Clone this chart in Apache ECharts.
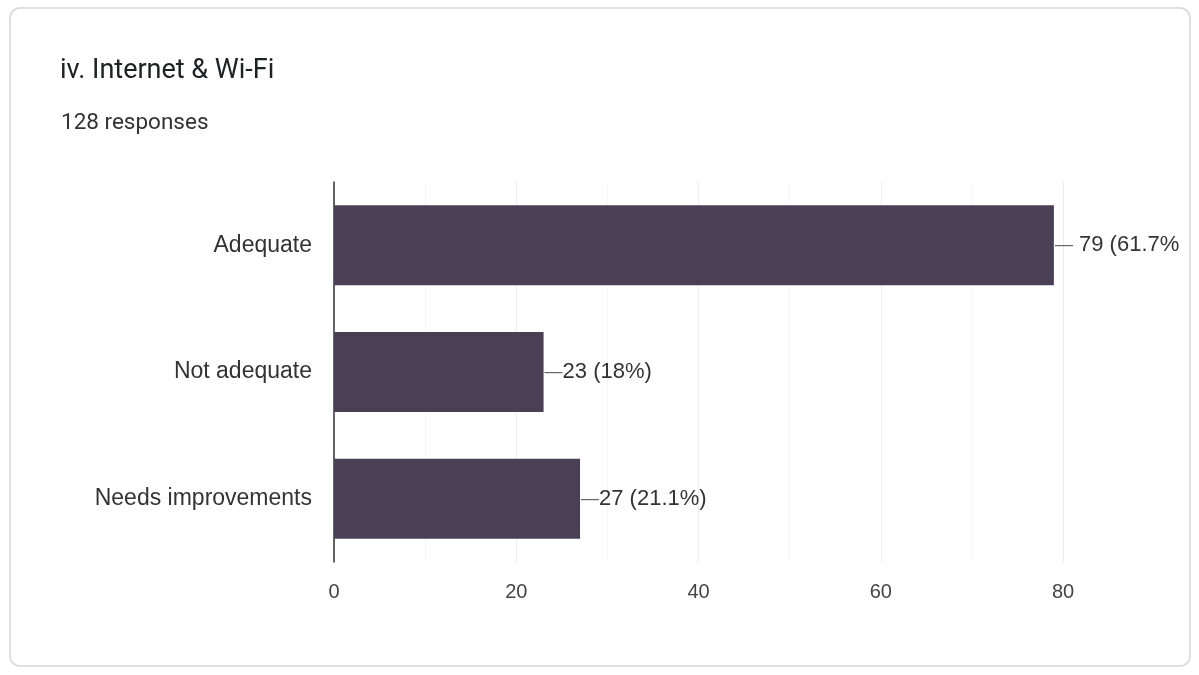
<!DOCTYPE html>
<html>
<head>
<meta charset="utf-8">
<script src="https://cdn.jsdelivr.net/npm/echarts@6/dist/echarts.min.js"></script>
<style>
html,body{margin:0;padding:0;background:#fff;}
#chart{width:1199px;height:675px;}
</style>
</head>
<body>
<div id="chart"></div>
<script>
var titleText = 'iv. Internet & Wi-Fi';
var subtitleText = '128 responses';
var categories = ['Adequate', 'Not adequate', 'Needs improvements'];
var counts = [79, 23, 27];
var labels = ['79 (61.7%', '23 (18%)', '27 (21.1%)'];
var xTicks = [0, 20, 40, 60, 80];

var chart = echarts.init(document.getElementById('chart'));
chart.setOption({
  backgroundColor: '#ffffff',
  animation: false,
  graphic: [{
    type: 'rect',
    shape: {x: 10, y: 8, width: 1180, height: 658, r: 10},
    style: {fill: 'none', stroke: '#d6d6d6', lineWidth: 1.5},
    z: -1
  }],
  title: [{
    text: titleText,
    left: 55, top: 53,
    textStyle: {fontFamily: 'Roboto', fontSize: 27, fontWeight: 'normal', color: '#202124'}
  }, {
    text: subtitleText,
    left: 56, top: 107,
    textStyle: {fontFamily: 'Roboto', fontSize: 22.5, fontWeight: 'normal', color: '#333333'}
  }],
  grid: {left: 334, right: 136, top: 182, bottom: 113, containLabel: false},
  xAxis: {
    type: 'value',
    min: 0, max: 80, interval: 20,
    axisLine: {show: false},
    axisTick: {show: false},
    axisLabel: {
      margin: 20,
      fontFamily: 'Liberation Sans, Arial', fontSize: 20, color: '#444444',
      formatter: function (v) { return xTicks.indexOf(v) >= 0 ? String(v) : ''; }
    },
    splitLine: {show: true, lineStyle: {color: '#ededed', width: 1}},
    minorTick: {show: false, splitNumber: 2},
    minorSplitLine: {show: true, lineStyle: {color: '#f6f6f6', width: 1}}
  },
  yAxis: {
    type: 'category',
    data: categories,
    inverse: true,
    axisLine: {show: true, lineStyle: {color: '#333333', width: 1.5}},
    axisTick: {show: false},
    axisLabel: {margin: 22, fontFamily: 'Liberation Sans, Arial', fontSize: 23, color: '#333333'},
    splitLine: {show: false}
  },
  series: [{
    type: 'bar',
    data: counts,
    barWidth: 80,
    itemStyle: {color: '#4a4055'},
    label: {
      show: true,
      position: 'right',
      distance: 1,
      fontFamily: 'Liberation Sans, Arial',
      fontSize: 22,
      color: '#333333',
      formatter: function (p) {
        return (p.dataIndex === 0 ? '{d|—} ' : '{d|—}') + labels[p.dataIndex];
      },
      rich: {d: {color: '#666666', fontSize: 18}}
    }
  }]
});
</script>
</body>
</html>
